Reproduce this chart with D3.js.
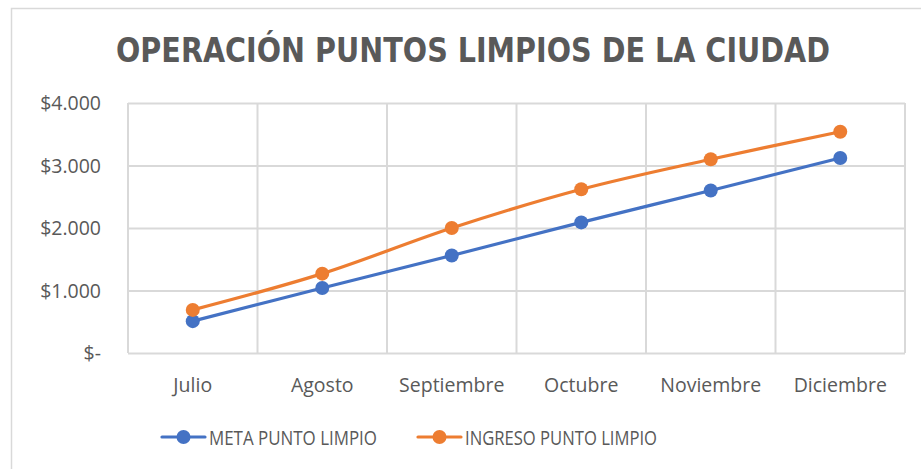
<!DOCTYPE html>
<html>
<head>
<meta charset="utf-8">
<script src="https://cdn.jsdelivr.net/npm/d3@7"></script>
<style>
  body { margin: 0; background: #fff; }
  svg { display: block; }
</style>
</head>
<body>
<svg id="chart" width="921" height="469"></svg>
<script>
// data
var months = ["Julio", "Agosto", "Septiembre", "Octubre", "Noviembre", "Diciembre"];
var meta = [510, 1040, 1560, 2090, 2600, 3120];
var ingreso = [690, 1270, 2000, 2620, 3100, 3540];
var yTicks = [0, 1000, 2000, 3000, 4000];
var seriesNames = ["META PUNTO LIMPIO", "INGRESO PUNTO LIMPIO"];
var seriesColors = ["#4472C4", "#ED7D31"];

var svg = d3.select("#chart");
var textColor = "#595959",
    gridColor = "#D9D9D9",
    font = "'Open Sans', 'Noto Sans', sans-serif";

var plotL = 128, plotR = 905, plotT = 103, plotB = 353;

// chart border
svg.append("rect")
  .attr("x", 11.5).attr("y", 8.5)
  .attr("width", 930).attr("height", 480)
  .attr("fill", "none")
  .attr("stroke", gridColor)
  .attr("stroke-width", 1.5);

// title
svg.append("text")
  .attr("x", 473).attr("y", 62)
  .attr("text-anchor", "middle")
  .attr("textLength", 714)
  .attr("lengthAdjust", "spacingAndGlyphs")
  .style("font-family", "'DejaVu Sans', sans-serif")
  .style("font-weight", "bold")
  .style("font-size", "34px")
  .style("fill", textColor)
  .text("OPERACIÓN PUNTOS LIMPIOS DE LA CIUDAD");

var x = d3.scaleBand().domain(months).range([plotL, plotR]);
var y = d3.scaleLinear().domain([0, 4000]).range([plotB, plotT]);

// horizontal gridlines
svg.append("g")
  .attr("transform", "translate(" + plotL + ",0)")
  .call(d3.axisLeft(y).tickValues(yTicks).tickSize(-(plotR - plotL)).tickFormat(""))
  .call(function(g) { g.select(".domain").remove(); })
  .selectAll("line")
  .attr("stroke", gridColor)
  .attr("stroke-width", 2);

// vertical gridlines at category boundaries
svg.append("g")
  .selectAll("line")
  .data(months.concat(["end"])).enter()
  .append("line")
  .attr("x1", function(d, i) { return i < months.length ? x(d) : plotR; })
  .attr("x2", function(d, i) { return i < months.length ? x(d) : plotR; })
  .attr("y1", plotT).attr("y2", plotB)
  .attr("stroke", gridColor)
  .attr("stroke-width", 2);

// y labels
svg.append("g")
  .selectAll("text")
  .data(yTicks).enter()
  .append("text")
  .attr("x", 101)
  .attr("y", function(d) { return y(d) + 7; })
  .attr("text-anchor", "end")
  .style("font-family", font)
  .style("font-size", "19.5px")
  .style("fill", textColor)
  .text(function(d) { return d === 0 ? "$-" : "$" + d3.format(",")(d).replace(",", "."); });

// x labels
svg.append("g")
  .selectAll("text")
  .data(months).enter()
  .append("text")
  .attr("x", function(d) { return x(d) + x.bandwidth() / 2; })
  .attr("y", 392)
  .attr("text-anchor", "middle")
  .style("font-family", font)
  .style("font-size", "19.5px")
  .style("fill", textColor)
  .text(function(d) { return d; });

var line = d3.line()
  .x(function(d, i) { return x(months[i]) + x.bandwidth() / 2; })
  .y(function(d) { return y(d); })
  .curve(d3.curveCardinal.tension(0));

[meta, ingreso].forEach(function(vals, s) {
  var g = svg.append("g");
  g.append("path")
    .datum(vals)
    .attr("d", line)
    .attr("fill", "none")
    .attr("stroke", seriesColors[s])
    .attr("stroke-width", 3.2)
    .attr("stroke-linecap", "round");
  g.selectAll("circle")
    .data(vals).enter()
    .append("circle")
    .attr("cx", function(d, i) { return x(months[i]) + x.bandwidth() / 2; })
    .attr("cy", function(d) { return y(d); })
    .attr("r", 7)
    .attr("fill", seriesColors[s]);
});

// legend
var legendX = [162, 418];
var legendW = [168, 192];
seriesNames.forEach(function(name, s) {
  var lg = svg.append("g").attr("transform", "translate(" + legendX[s] + ",437)");
  lg.append("line")
    .attr("x1", 0).attr("x2", 43)
    .attr("stroke", seriesColors[s])
    .attr("stroke-width", 3.2)
    .attr("stroke-linecap", "round");
  lg.append("circle").attr("cx", 21.5).attr("r", 7).attr("fill", seriesColors[s]);
  lg.append("text")
    .attr("x", 47).attr("y", 7.5)
    .attr("textLength", legendW[s])
    .attr("lengthAdjust", "spacingAndGlyphs")
    .style("font-family", font)
    .style("font-size", "20px")
    .style("fill", textColor)
    .text(name);
});
</script>
</body>
</html>
